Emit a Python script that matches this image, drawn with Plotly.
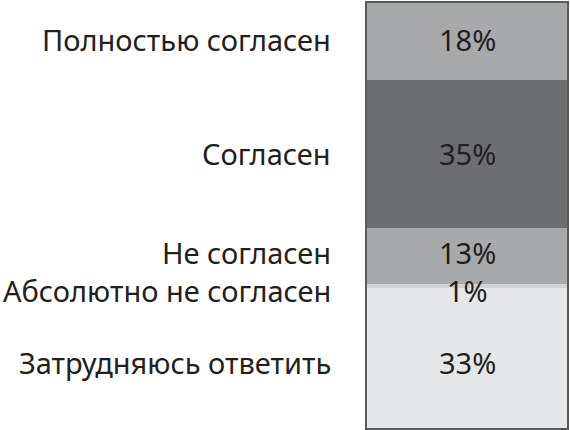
import numpy as np
import plotly.graph_objects as go

# Data
categories = [
    "Полностью согласен",
    "Согласен",
    "Не согласен",
    "Абсолютно не согласен",
    "Затрудняюсь ответить",
]
values = [18, 35, 13, 1, 33]
colors = ["#a7a9ab", "#6d6e71", "#a7a9ab", "#d1d3d4", "#e6e7e8"]

font_family = "Noto Sans, Open Sans, sans-serif"
text_color = "#231f20"

# Midpoints of each stacked segment
bottoms = np.cumsum([0] + values[:-1])
mids = bottoms + np.array(values) / 2
# small pixel nudges (positive = up) so the thin rows do not collide
nudges = [2, 0, 3, -5, -5]

fig = go.Figure()
for name, value, color in zip(categories, values, colors):
    fig.add_trace(
        go.Bar(
            x=[0],
            y=[value],
            name=name,
            marker=dict(color=color, line=dict(width=0)),
            width=1,
            hoverinfo="none",
            showlegend=False,
        )
    )

for name, value, mid, dy in zip(categories, values, mids, nudges):
    # percentage inside the column
    fig.add_annotation(
        x=0,
        y=mid,
        yshift=dy,
        text=f"{value}%",
        showarrow=False,
        font=dict(size=29, color=text_color, family=font_family),
    )
    # category label on the left
    fig.add_annotation(
        xref="paper",
        x=0,
        y=mid,
        yshift=dy,
        xshift=-34,
        xanchor="right",
        text=name,
        showarrow=False,
        font=dict(size=29, color=text_color, family=font_family),
    )

fig.update_layout(
    barmode="stack",
    width=570,
    height=430,
    margin=dict(l=367, r=2, t=1, b=2),
    plot_bgcolor="white",
    paper_bgcolor="white",
    bargap=0,
)
fig.update_xaxes(
    range=[-0.5, 0.5],
    showticklabels=False,
    showgrid=False,
    zeroline=False,
    showline=True,
    mirror=True,
    linecolor="#58595b",
    linewidth=2,
)
fig.update_yaxes(
    range=[100, 0],
    showticklabels=False,
    showgrid=False,
    zeroline=False,
    showline=True,
    mirror=True,
    linecolor="#58595b",
    linewidth=2,
)

fig.write_html(
    "out.html",
    config={"displayModeBar": False},
    post_script="document.body.style.margin = '0';",
)
